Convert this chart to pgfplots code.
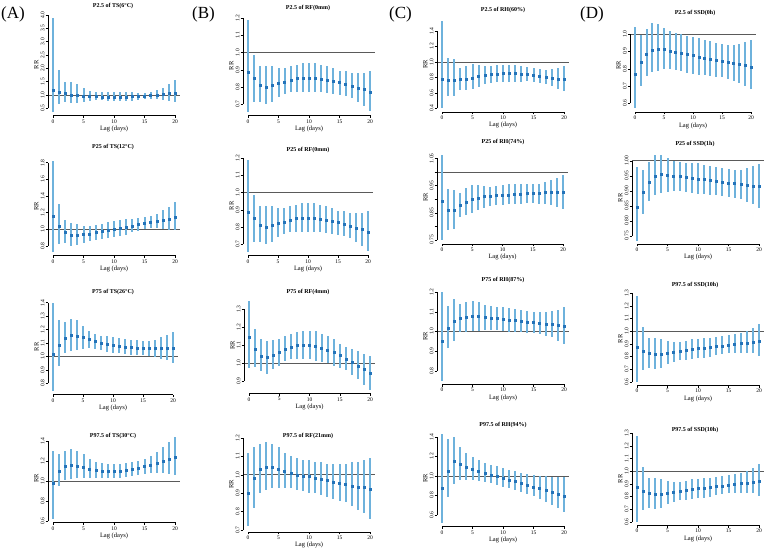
\documentclass[border=0pt]{standalone}
\usepackage{pgfplots}
\pgfplotsset{compat=1.18}
\usepackage{pgfplotstable}
\usepackage{fontspec}
\setmainfont{Liberation Serif}
\definecolor{barblue}{RGB}{110,178,220}
\definecolor{ptblue}{RGB}{35,115,185}
\definecolor{refgray}{RGB}{90,90,90}

% x0p x20p vtop ptop vbot pbot ymin ymax
\newcommand\setgeom[8]{%
 \pgfmathsetmacro\gsx{(#2-#1)/20}%
 \pgfmathsetmacro\gsy{(#6-#4)/(#3-#5)}%
 \pgfmathsetmacro\gleft{#1-0.8*\gsx}%
 \pgfmathsetmacro\gbot{552-(#6+(#5-#7)*\gsy)}%
 \def\gymin{#7}\def\gymax{#8}\def\gvlo{#5}\def\gvhi{#3}%
}

\pgfplotsset{
 panel/.style={
  at={(\gleft pt,\gbot pt)}, anchor=south west,
  x=\gsx pt, y=\gsy pt,
  xmin=-0.8, xmax=20.8, ymin=\gymin, ymax=\gymax,
  xtick={0,5,10,15,20},
  axis line style={draw=none},
  tick pos=left, tick align=outside, major tick length=2.5pt,
  tick style={black, line width=0.4pt},
  every tick label/.append style={font=\fontsize{5.5}{6}\selectfont},
  yticklabel style={rotate=90, anchor=south, inner sep=1pt},
  xticklabel style={inner sep=1.5pt},
  xlabel={Lag (days)}, ylabel={RR},
  label style={font=\fontsize{6.5}{7}\selectfont},
  xlabel style={inner sep=1pt},
  ylabel style={inner sep=1pt},
  /pgf/number format/assume math mode=true,
  clip=false,
 },
 ci/.style={ptblue, only marks, mark=square*, mark size=1.0pt,
  error bars/.cd, y dir=both, y explicit, error mark=none,
  error bar style={line width=2pt, barblue}},
 refline/.style={refgray, line width=0.7pt, mark=none},
}
\newcommand\ciplot[1]{%
 \addplot[refline] coordinates {(-0.8,1) (20.8,1)};
 \addplot[ci] table[x=lag, y=est, y error plus expr=\thisrow{up}-\thisrow{est}, y error minus expr=\thisrow{est}-\thisrow{lo}] {#1};
 \draw[black, line width=0.4pt] (axis cs:-0.8,\gvlo) -- (axis cs:-0.8,\gvhi);
 \draw[black, line width=0.4pt] (axis cs:0,\gymin) -- (axis cs:20,\gymin);
}
\newcommand\ttl[3]{\node[font=\bfseries\fontsize{6}{7}\selectfont] at (#1pt,{552pt-#2pt}) {#3};}

\pgfplotstableread{
lag est lo up
0 1.19 0.37 3.90
1 1.12 0.65 1.94
2 1.05 0.72 1.48
3 1.01 0.70 1.47
4 0.98 0.70 1.40
5 0.96 0.74 1.25
6 0.95 0.77 1.15
7 0.94 0.80 1.10
8 0.93 0.80 1.10
9 0.93 0.79 1.11
10 0.93 0.78 1.12
11 0.93 0.78 1.12
12 0.93 0.78 1.11
13 0.94 0.79 1.10
14 0.95 0.82 1.08
15 0.96 0.85 1.07
16 0.98 0.86 1.10
17 1.00 0.85 1.18
18 1.03 0.83 1.28
19 1.05 0.79 1.40
20 1.07 0.75 1.55
}\tAa
\pgfplotstableread{
lag est lo up
0 0.887 0.655 1.19
1 0.848 0.71 0.985
2 0.81 0.71 0.92
3 0.80 0.70 0.92
4 0.81 0.71 0.92
5 0.82 0.74 0.91
6 0.83 0.76 0.91
7 0.84 0.77 0.92
8 0.85 0.77 0.93
9 0.85 0.77 0.94
10 0.853 0.77 0.94
11 0.85 0.77 0.94
12 0.845 0.77 0.93
13 0.84 0.765 0.92
14 0.835 0.76 0.91
15 0.825 0.75 0.895
16 0.815 0.745 0.89
17 0.805 0.735 0.88
18 0.795 0.71 0.88
19 0.785 0.69 0.88
20 0.77 0.66 0.89
}\tBa
\pgfplotstableread{
lag est lo up
0 0.78 0.40 1.53
1 0.765 0.555 1.05
2 0.76 0.555 1.035
3 0.77 0.64 0.92
4 0.78 0.635 0.95
5 0.795 0.645 0.97
6 0.815 0.675 0.96
7 0.83 0.71 0.945
8 0.84 0.73 0.945
9 0.845 0.74 0.955
10 0.85 0.74 0.96
11 0.853 0.745 0.965
12 0.853 0.745 0.96
13 0.845 0.745 0.95
14 0.84 0.75 0.935
15 0.83 0.74 0.92
16 0.82 0.73 0.905
17 0.805 0.71 0.90
18 0.79 0.685 0.905
19 0.78 0.655 0.92
20 0.77 0.625 0.945
}\tCa
\pgfplotstableread{
lag est lo up
0 0.77 0.57 1.04
1 0.836 0.70 0.996
2 0.886 0.76 1.03
3 0.91 0.78 1.068
4 0.915 0.79 1.06
5 0.911 0.80 1.035
6 0.903 0.80 1.017
7 0.898 0.793 1.006
8 0.892 0.787 1.0
9 0.886 0.778 0.99
10 0.878 0.772 0.983
11 0.87 0.766 0.977
12 0.863 0.762 0.967
13 0.855 0.76 0.96
14 0.85 0.755 0.952
15 0.844 0.75 0.944
16 0.838 0.74 0.938
17 0.832 0.73 0.938
18 0.824 0.716 0.946
19 0.818 0.70 0.954
20 0.812 0.68 0.967
}\tDa
\pgfplotstableread{
lag est lo up
0 1.156 0.73 1.82
1 1.036 0.83 1.30
2 0.964 0.836 1.11
3 0.932 0.804 1.072
4 0.928 0.812 1.06
5 0.936 0.84 1.036
6 0.944 0.856 1.036
7 0.96 0.876 1.048
8 0.976 0.888 1.068
9 0.988 0.90 1.084
10 0.996 0.908 1.096
11 1.008 0.916 1.112
12 1.024 0.932 1.12
13 1.04 0.964 1.128
14 1.056 0.98 1.14
15 1.072 1.004 1.144
16 1.084 1.02 1.156
17 1.096 1.02 1.188
18 1.108 1.0 1.228
19 1.124 0.988 1.272
20 1.14 0.988 1.324
}\tAb
\pgfplotstableread{
lag est lo up
0 0.891 0.749 1.062
1 0.859 0.788 0.937
2 0.86 0.79 0.934
3 0.877 0.833 0.922
4 0.89 0.841 0.94
5 0.899 0.849 0.952
6 0.905 0.859 0.952
7 0.909 0.867 0.95
8 0.911 0.876 0.945
9 0.913 0.878 0.95
10 0.915 0.88 0.951
11 0.916 0.882 0.954
12 0.918 0.884 0.955
13 0.92 0.884 0.956
14 0.921 0.885 0.956
15 0.922 0.885 0.956
16 0.923 0.884 0.957
17 0.924 0.883 0.963
18 0.924 0.879 0.971
19 0.926 0.873 0.979
20 0.927 0.865 0.99
}\tCb
\pgfplotstableread{
lag est lo up
0 0.847 0.735 0.978
1 0.894 0.823 0.969
2 0.929 0.867 0.997
3 0.947 0.886 1.019
4 0.954 0.892 1.019
5 0.952 0.897 1.008
6 0.95 0.90 1.0
7 0.948 0.899 0.997
8 0.945 0.897 0.993
9 0.941 0.894 0.991
10 0.939 0.889 0.991
11 0.937 0.888 0.986
12 0.935 0.887 0.982
13 0.931 0.886 0.978
14 0.929 0.883 0.975
15 0.926 0.881 0.971
16 0.924 0.875 0.969
17 0.921 0.872 0.969
18 0.919 0.864 0.975
19 0.916 0.855 0.982
20 0.914 0.842 0.989
}\tDb
\pgfplotstableread{
lag est lo up
0 1.015 0.742 1.40
1 1.087 0.928 1.273
2 1.139 1.025 1.256
3 1.156 1.04 1.28
4 1.154 1.05 1.268
5 1.141 1.057 1.226
6 1.127 1.062 1.186
7 1.112 1.057 1.164
8 1.102 1.045 1.151
9 1.092 1.035 1.149
10 1.084 1.027 1.144
11 1.077 1.022 1.139
12 1.072 1.017 1.132
13 1.067 1.012 1.124
14 1.064 1.01 1.119
15 1.062 1.007 1.114
16 1.06 1.002 1.114
17 1.06 0.995 1.124
18 1.06 0.983 1.144
19 1.06 0.97 1.161
20 1.06 0.953 1.181
}\tAc
\pgfplotstableread{
lag est lo up
0 1.146 0.972 1.346
1 1.079 0.978 1.187
2 1.037 0.953 1.131
3 1.032 0.94 1.125
4 1.041 0.963 1.127
5 1.06 0.985 1.135
6 1.077 1.009 1.15
7 1.088 1.019 1.164
8 1.097 1.022 1.174
9 1.099 1.022 1.179
10 1.099 1.019 1.181
11 1.093 1.013 1.176
12 1.084 1.006 1.164
13 1.073 1.0 1.148
14 1.058 0.985 1.131
15 1.041 0.972 1.108
16 1.022 0.959 1.09
17 1.004 0.931 1.075
18 0.983 0.91 1.065
19 0.963 0.878 1.05
20 0.942 0.85 1.041
}\tBc
\pgfplotstableread{
lag est lo up
0 0.949 0.75 1.20
1 1.015 0.915 1.131
2 1.053 0.949 1.165
3 1.066 1.0 1.141
4 1.075 1.0 1.15
5 1.077 1.005 1.155
6 1.077 1.005 1.148
7 1.073 1.01 1.136
8 1.07 1.01 1.131
9 1.066 1.009 1.126
10 1.063 1.003 1.124
11 1.06 1.0 1.121
12 1.056 0.998 1.116
13 1.053 0.995 1.111
14 1.049 0.991 1.106
15 1.046 0.99 1.10
16 1.043 0.986 1.099
17 1.039 0.978 1.099
18 1.036 0.971 1.106
19 1.032 0.952 1.111
20 1.029 0.937 1.124
}\tCc
\pgfplotstableread{
lag est lo up
0 0.877 0.60 1.279
1 0.845 0.69 1.03
2 0.822 0.705 0.95
3 0.816 0.697 0.95
4 0.819 0.71 0.94
5 0.824 0.737 0.922
6 0.835 0.756 0.914
7 0.843 0.769 0.917
8 0.848 0.772 0.925
9 0.856 0.777 0.935
10 0.864 0.785 0.94
11 0.869 0.79 0.945
12 0.875 0.798 0.95
13 0.88 0.808 0.956
14 0.885 0.819 0.961
15 0.89 0.824 0.966
16 0.896 0.829 0.977
17 0.901 0.829 0.988
18 0.906 0.829 1.001
19 0.911 0.824 1.027
20 0.917 0.806 1.054
}\tDc
\pgfplotstableread{
lag est lo up
0 0.98 0.62 1.30
1 1.10 0.95 1.27
2 1.15 1.01 1.30
3 1.16 1.02 1.32
4 1.15 1.03 1.30
5 1.14 1.03 1.27
6 1.12 1.03 1.22
7 1.11 1.03 1.19
8 1.10 1.03 1.18
9 1.10 1.03 1.17
10 1.10 1.03 1.17
11 1.10 1.03 1.17
12 1.11 1.04 1.18
13 1.12 1.05 1.19
14 1.13 1.06 1.20
15 1.15 1.07 1.22
16 1.16 1.08 1.25
17 1.18 1.08 1.29
18 1.20 1.08 1.34
19 1.22 1.07 1.39
20 1.24 1.06 1.44
}\tAd
\pgfplotstableread{
lag est lo up
0 0.90 0.72 1.12
1 0.98 0.82 1.15
2 1.03 0.90 1.17
3 1.04 0.92 1.18
4 1.04 0.93 1.17
5 1.03 0.93 1.15
6 1.02 0.93 1.12
7 1.01 0.93 1.10
8 1.00 0.92 1.09
9 0.995 0.91 1.08
10 0.99 0.90 1.08
11 0.98 0.90 1.07
12 0.975 0.89 1.07
13 0.97 0.88 1.06
14 0.96 0.87 1.06
15 0.955 0.86 1.06
16 0.95 0.85 1.06
17 0.94 0.83 1.07
18 0.935 0.81 1.07
19 0.93 0.79 1.08
20 0.92 0.76 1.09
}\tBd
\pgfplotstableread{
lag est lo up
0 0.87 0.52 1.43
1 1.05 0.78 1.38
2 1.15 0.92 1.40
3 1.12 0.96 1.30
4 1.09 0.96 1.24
5 1.07 0.96 1.20
6 1.05 0.95 1.16
7 1.03 0.94 1.13
8 1.01 0.93 1.11
9 1.00 0.91 1.10
10 0.98 0.89 1.08
11 0.96 0.88 1.06
12 0.95 0.86 1.05
13 0.93 0.84 1.03
14 0.91 0.82 1.02
15 0.89 0.79 1.01
16 0.87 0.76 1.00
17 0.85 0.73 1.00
18 0.83 0.70 0.99
19 0.81 0.67 0.99
20 0.79 0.63 0.99
}\tCd

\begin{document}
\begin{tikzpicture}
\path[use as bounding box] (0,0) rectangle (767pt,552pt);

% ---------- Row 1 ----------
\setgeom{53}{175}{4.0}{15}{0.5}{108.3}{0.23}{4.04}
\begin{axis}[panel, ytick={0.5,1,...,4}, yticklabels={0.5,1.0,1.5,2.0,2.5,3.0,3.5,4.0}]
\ciplot{\tAa}
\end{axis}
\setgeom{248}{370}{1.2}{18.3}{0.7}{104}{0.634}{1.211}
\begin{axis}[panel, ytick={0.7,0.8,...,1.2}, yticklabels={0.7,0.8,0.9,1.0,1.1,1.2}]
\ciplot{\tBa}
\end{axis}
\setgeom{442}{564}{1.4}{31}{0.4}{108.3}{0.355}{1.575}
\begin{axis}[panel, ytick={0.4,0.6,...,1.4}, yticklabels={0.4,0.6,0.8,1.0,1.2,1.4}]
\ciplot{\tCa}
\end{axis}
\setgeom{635}{751}{1.0}{34.3}{0.6}{103.3}{0.55}{1.088}
\begin{axis}[panel, ytick={0.6,0.7,...,1.0}, yticklabels={0.6,0.7,0.8,0.9,1.0}]
\ciplot{\tDa}
\end{axis}

% ---------- Row 2 ----------
\setgeom{53}{175}{1.8}{162.7}{0.8}{246}{0.686}{1.864}
\begin{axis}[panel, ytick={0.8,1.0,...,1.8}, yticklabels={0.8,1.0,1.2,1.4,1.6,1.8}]
\ciplot{\tAb}
\end{axis}
\setgeom{248}{368}{1.2}{158.3}{0.7}{244}{0.634}{1.211}
\begin{axis}[panel, ytick={0.7,0.8,...,1.2}, yticklabels={0.7,0.8,0.9,1.0,1.1,1.2}]
\ciplot{\tBa}
\end{axis}
\setgeom{442}{563}{1.05}{158.3}{0.75}{240}{0.736}{1.075}
\begin{axis}[panel, ytick={0.75,0.8,0.85,0.9,0.95,1.0,1.05}, yticklabels={0.75,,0.85,,0.95,,1.05}]
\ciplot{\tCb}
\end{axis}
\setgeom{637}{759}{1.0}{160.7}{0.75}{236}{0.724}{1.030}
\begin{axis}[panel, ytick={0.75,0.8,0.85,0.9,0.95,1.0}, yticklabels={0.75,0.80,0.85,0.90,0.95,1.00}]
\ciplot{\tDb}
\end{axis}

% ---------- Row 3 ----------
\setgeom{53}{173}{1.4}{302.7}{0.8}{383.3}{0.716}{1.426}
\begin{axis}[panel, ytick={0.8,0.9,...,1.4}, yticklabels={0.8,0.9,1.0,1.1,1.2,1.3,1.4}]
\ciplot{\tAc}
\end{axis}
\setgeom{249}{370}{1.3}{309.3}{0.9}{380.7}{0.83}{1.366}
\begin{axis}[panel, ytick={0.9,1.0,...,1.3}, yticklabels={0.9,1.0,1.1,1.2,1.3}]
\ciplot{\tBc}
\end{axis}
\setgeom{442}{564}{1.2}{292.3}{0.8}{370.7}{0.732}{1.218}
\begin{axis}[panel, ytick={0.8,0.9,...,1.2}, yticklabels={0.8,0.9,1.0,1.1,1.2}]
\ciplot{\tCc}
\end{axis}
\setgeom{637}{759}{1.3}{293.3}{0.6}{381.7}{0.573}{1.306}
\begin{axis}[panel, ytick={0.6,0.7,...,1.3}, yticklabels={0.6,0.7,0.8,0.9,1.0,1.1,1.2,1.3}]
\ciplot{\tDc}
\end{axis}

% ---------- Row 4 ----------
\setgeom{53}{175}{1.4}{441}{0.6}{521}{0.586}{1.474}
\begin{axis}[panel, ytick={0.6,0.8,...,1.4}, yticklabels={0.6,0.8,1.0,1.2,1.4}]
\ciplot{\tAd}
\end{axis}
\setgeom{248}{370}{1.2}{438}{0.7}{530}{0.69}{1.21}
\begin{axis}[panel, ytick={0.7,0.8,...,1.2}, yticklabels={0.7,0.8,0.9,1.0,1.1,1.2}]
\ciplot{\tBd}
\end{axis}
\setgeom{442}{564}{1.4}{437}{0.6}{515}{0.484}{1.466}
\begin{axis}[panel, ytick={0.6,0.8,...,1.4}, yticklabels={0.6,0.8,1.0,1.2,1.4}]
\ciplot{\tCd}
\end{axis}
\setgeom{637}{759}{1.3}{433.3}{0.6}{521.7}{0.573}{1.306}
\begin{axis}[panel, ytick={0.6,0.7,...,1.3}, yticklabels={0.6,0.7,0.8,0.9,1.0,1.1,1.2,1.3}]
\ciplot{\tDc}
\end{axis}

% ---------- titles ----------
\ttl{113}{6}{P2.5 of TS(6°C)}
\ttl{308}{8}{P2.5 of RF(0mm)}
\ttl{503}{10}{P2.5 of RH(60\%)}
\ttl{695}{13}{P2.5 of SSD(0h)}
\ttl{113}{147}{P25 of TS(12°C)}
\ttl{308}{150}{P25 of RF(0mm)}
\ttl{503}{142}{P25 of RH(74\%)}
\ttl{695}{144}{P25 of SSD(1h)}
\ttl{113}{292}{P75 of TS(26°C)}
\ttl{308}{292}{P75 of RF(4mm)}
\ttl{503}{280}{P75 of RH(87\%)}
\ttl{695}{285}{P97.5 of SSD(10h)}
\ttl{113}{436}{P97.5 of TS(30°C)}
\ttl{308}{436}{P97.5 of RF(21mm)}
\ttl{503}{425}{P97.5 of RH(94\%)}
\ttl{695}{430}{P97.5 of SSD(10h)}

% ---------- panel letters ----------
\node[anchor=west, inner sep=0pt, font=\fontsize{17}{17}\selectfont] at (1pt,538pt) {(A)};
\node[anchor=west, inner sep=0pt, font=\fontsize{17}{17}\selectfont] at (192pt,538pt) {(B)};
\node[anchor=west, inner sep=0pt, font=\fontsize{17}{17}\selectfont] at (389pt,538pt) {(C)};
\node[anchor=west, inner sep=0pt, font=\fontsize{17}{17}\selectfont] at (580pt,538pt) {(D)};
\end{tikzpicture}
\end{document}
